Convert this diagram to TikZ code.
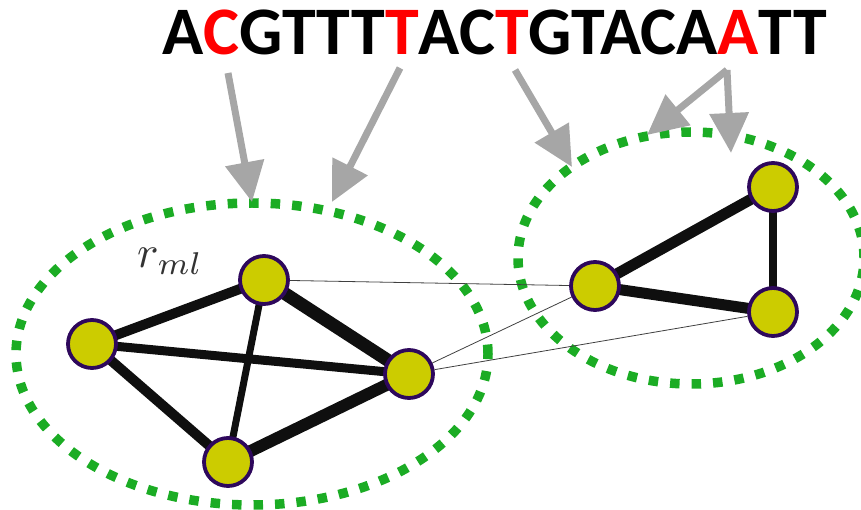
\documentclass[tikz,border=0pt]{standalone}
\usepackage{fontspec}
\setmainfont{Carlito}
\usetikzlibrary{arrows.meta,shapes.geometric}
\definecolor{grn}{RGB}{27,172,36}
\definecolor{arrgray}{RGB}{166,166,166}
\definecolor{vfill}{RGB}{204,204,0}
\definecolor{vline}{RGB}{46,8,92}
\definecolor{edgec}{RGB}{15,15,15}
\pgfdeclarelayer{bg}
\pgfsetlayers{bg,main}
\tikzset{
 vertex/.style={circle, draw=vline, fill=vfill, line width=3.8pt, minimum size=48pt, inner sep=0pt},
 cluster/.style={ellipse, draw=grn, line width=9.5pt, dash pattern=on 9.5pt off 12pt, inner sep=0pt},
 bond/.style={draw=edgec, line width=#1},
 link/.style={draw=black!75, line width=0.8pt},
 pointer/.style={draw=arrgray, line width=7pt, -{Triangle[length=40pt,width=38pt]}},
}
\begin{document}
\begin{tikzpicture}[x=1pt,y=-1pt]
\useasboundingbox (0,0) rectangle (861,510);
% sequence
\node[anchor=base west, inner sep=0pt, font=\fontsize{68}{68}\selectfont\bfseries] (seq) at (162,55)
  {A\textcolor{red}{C}GTTT\textcolor{red}{T}AC\textcolor{red}{T}GTACA\textcolor{red}{A}TT};
% clusters
\node[cluster, minimum width=472pt, minimum height=302pt] (L) at (252,354) {};
\node[cluster, minimum width=346pt, minimum height=252pt] (R) at (691,258) {};
% vertices
\node[vertex] (n1) at (92,344) {};
\node[vertex] (n2) at (264,280) {};
\node[vertex] (n3) at (409,374) {};
\node[vertex] (n4) at (228,462) {};
\node[vertex] (m1) at (595,286) {};
\node[vertex] (m2) at (773,187) {};
\node[vertex] (m3) at (773,312) {};
% label
\node[anchor=base west, inner sep=0pt, text=black!80] (rml) at (137,268) {\scalebox{4.5}{$r_{ml}$}};
% bonds
\begin{pgfonlayer}{bg}
\draw[bond=10pt] (n1.center) -- (n2.center);
\draw[bond=13pt] (n2.center) -- (n3.center);
\draw[bond=9pt] (n1.center) -- (n3.center);
\draw[bond=7pt] (n2.center) -- (n4.center);
\draw[bond=10pt] (n1.center) -- (n4.center);
\draw[bond=12pt] (n4.center) -- (n3.center);
\draw[bond=11pt] (m1.center) -- (m2.center);
\draw[bond=11pt] (m1.center) -- (m3.center);
\draw[bond=8pt] (m2.center) -- (m3.center);
\end{pgfonlayer}
% links between clusters
\draw[link] (n2) -- (m1);
\draw[link] (n3) -- (m1);
\draw[link] (n3) -- (m3);
% pointers
\coordinate (s1) at (228,73);  \coordinate (t1) at (252,202);
\coordinate (s2) at (400,68);  \coordinate (t2) at (332,202);
\coordinate (s3) at (515,70);  \coordinate (t3) at (572,167);
\coordinate (s4) at (727,70);  \coordinate (t4) at (647,135);
\coordinate (t5) at (731,153);
\draw[pointer] (s1) -- (t1);
\draw[pointer] (s2) -- (t2);
\draw[pointer] (s3) -- (t3);
\draw[pointer] (s4) -- (t4);
\draw[pointer] (s4) -- (t5);
\end{tikzpicture}
\end{document}
